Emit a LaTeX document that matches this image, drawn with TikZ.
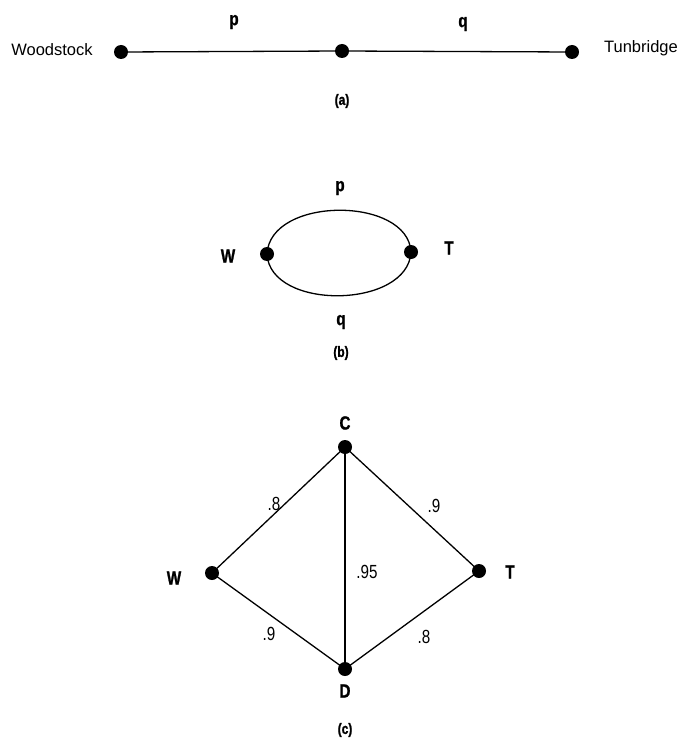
\documentclass[tikz,border=0pt]{standalone}
\usepackage{fontspec}
\setmainfont{Liberation Sans}
\newfontfamily\condfont{Liberation Sans}[FakeStretch=0.8, BoldFeatures={FakeBold=1.2}]
\begin{document}
\begin{tikzpicture}[x=1pt,y=-1pt,
  dot/.style={circle,fill=black,inner sep=0pt,minimum size=14pt},
  edge/.style={line width=1.3pt},
  town/.style={font=\fontsize{16.5}{18}\selectfont},
  lbl/.style={font=\fontsize{19}{21}\condfont\bfseries},
  figcap/.style={font=\fontsize{15}{17}\condfont\bfseries},
  wt/.style={font=\fontsize{19}{21}\condfont}]
\useasboundingbox (0,0) rectangle (681,746);
% (a)
\node[dot] (aW) at (121,52) {};
\node[dot] (aM) at (342,51) {};
\node[dot] (aT) at (572,52) {};
\draw[edge] (aW) -- (aM) -- (aT);
\node[town] (woodstock) at (52,50) {Woodstock};
\node[town] (tunbridge) at (641,48) {Tunbridge};
\node[lbl] (ap) at (234,22) {p};
\node[lbl] (aq) at (463,24) {q};
\node[figcap] (acap) at (342,101) {(a)};
% (b)
\node[dot] (bW) at (267,254) {};
\node[dot] (bT) at (411,252) {};
\draw[edge] (bW.center) .. controls (270,196) and (408,196) .. (bT.center);
\draw[edge] (bW.center) .. controls (270,311) and (408,309) .. (bT.center);
\node[lbl] (bp) at (340,188) {p};
\node[lbl] (bq) at (341,322) {q};
\node[lbl] (bWl) at (228,256) {W};
\node[lbl] (bTl) at (449,248) {T};
\node[figcap] (bcap) at (341,353) {(b)};
% (c)
\node[dot] (cC) at (345,447) {};
\node[dot] (cW) at (212,573) {};
\node[dot] (cT) at (479,571) {};
\node[dot] (cD) at (345,669) {};
\draw[edge] (cW.center) -- (cC.center) -- (cT.center) -- (cD.center) -- (cW.center);
\draw[edge] (cC.center) -- (cD.center);
\node[lbl] (cCl) at (345,423) {C};
\node[lbl] (cWl) at (174,578) {W};
\node[lbl] (cTl) at (510,572) {T};
\node[lbl] (cDl) at (345,691) {D};
\node[wt] (w1) at (274,504) {.8};
\node[wt] (w2) at (434,506) {.9};
\node[wt] (w3) at (367,572) {.95};
\node[wt] (w4) at (269,634) {.9};
\node[wt] (w5) at (424,637) {.8};
\node[figcap] (ccap) at (345,730) {(c)};
\end{tikzpicture}
\end{document}
